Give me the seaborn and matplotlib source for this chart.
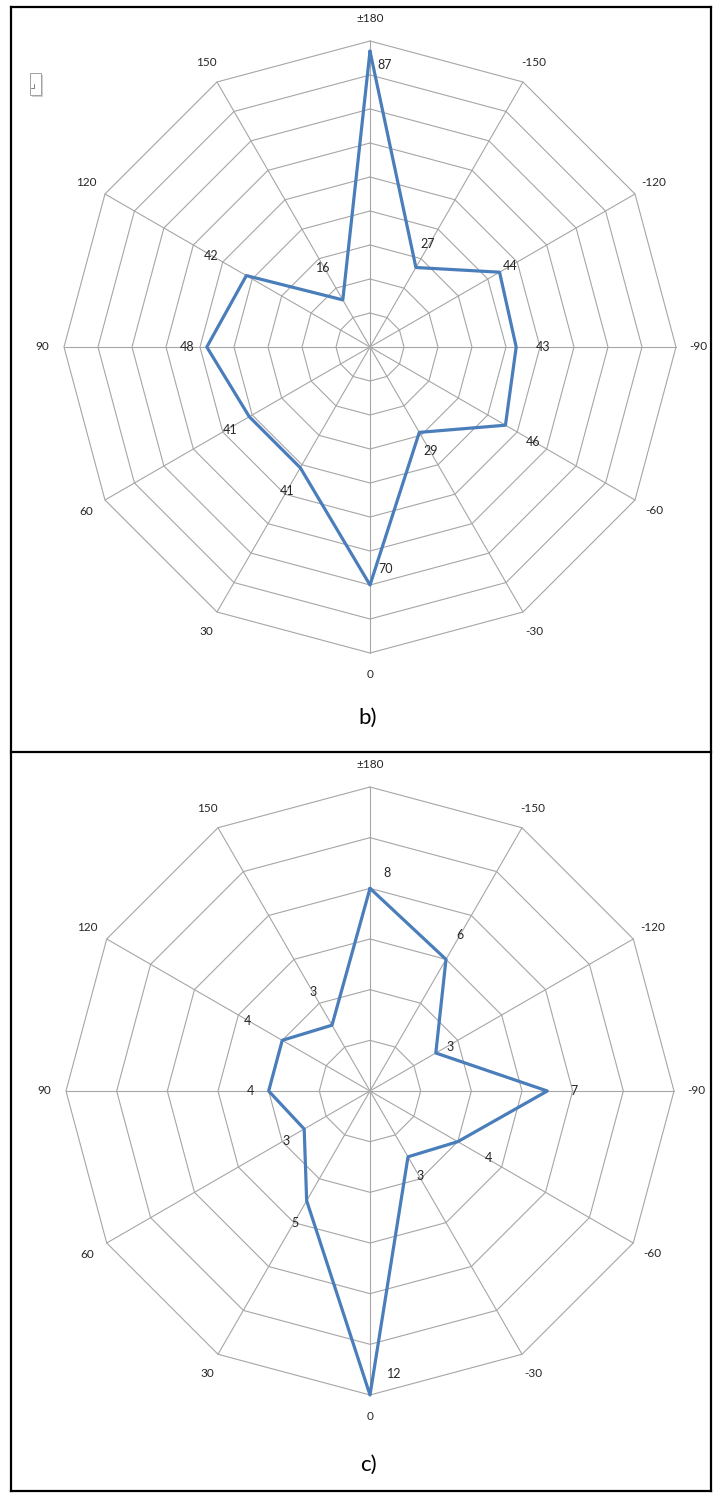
import numpy as np
import pandas as pd
import seaborn as sns
import matplotlib.pyplot as plt
from matplotlib.lines import Line2D
from matplotlib.patches import Rectangle

# categories (clockwise from the top) and the two series
angles = ['\u00b1180', '-150', '-120', '-90', '-60', '-30', '0', '30', '60', '90', '120', '150']
values_b = [87, 27, 44, 43, 46, 29, 70, 41, 41, 48, 42, 16]
values_c = [8, 6, 3, 7, 4, 3, 12, 5, 3, 4, 4, 3]
rmax_b, step_b = 90, 10
rmax_c, step_c = 12, 2

# data label offsets (pixels, x right / y up)
offs_b = [(15, -14), (12, 23), (11, 6), (27, 0), (28, -17), (11, -19),
          (16, 16), (-13, -23), (-19, -13), (-20, 0), (-35, 20), (-20, 32)]
offs_c = [(17, 15), (14, 24), (14, 6), (27, 0), (31, -16), (12, -19),
          (24, 21), (-12, -22), (-18, -12), (-18, 0), (-35, 19), (-19, 33)]

sns.set_style('white')
plt.rcParams['font.family'] = ['Lato', 'DejaVu Sans']

W, H = 713, 1493
fig = plt.figure(figsize=(W / 100, H / 100), dpi=100)

GRID = '#a6a6a6'
BLUE = '#4a7ebb'
TXT = '#262626'


def radar(values, rmax, step, cx, cy, R, offs, half=345):
    ax = fig.add_axes([(cx - half) / W, 1 - (cy + half) / H, 2 * half / W, 2 * half / H])
    L = rmax * half / R
    ax.set_xlim(-L, L)
    ax.set_ylim(-L, L)
    ax.axis('off')

    th = np.deg2rad(np.arange(len(angles)) * 30)
    sx, sy = np.sin(th), np.cos(th)

    # polygon rings
    for r in np.arange(step, rmax + step / 2, step):
        ax.plot(np.append(r * sx, r * sx[0]), np.append(r * sy, r * sy[0]),
                color=GRID, lw=0.8, zorder=1)
    # spokes
    for i in range(len(angles)):
        ax.plot([0, rmax * sx[i]], [0, rmax * sy[i]], color=GRID, lw=0.8, zorder=1)

    v = np.array(values, dtype=float)
    df = pd.DataFrame({'x': np.append(v * sx, v[0] * sx[0]),
                       'y': np.append(v * sy, v[0] * sy[0])})
    sns.lineplot(data=df, x='x', y='y', sort=False, estimator=None, ax=ax,
                 color=BLUE, lw=2.3, zorder=3)

    # category labels
    rl = rmax * (1 + 22 / R)
    for i, lab in enumerate(angles):
        ax.text(rl * sx[i], rl * sy[i], lab, ha='center', va='center',
                fontsize=8.5, color=TXT, clip_on=False)

    # value labels
    for i, val in enumerate(values):
        ax.annotate(str(val), (val * sx[i], val * sy[i]), xytext=offs[i],
                    textcoords='offset pixels', ha='center', va='center',
                    fontsize=9, color=TXT, annotation_clip=False)
    return ax


radar(values_b, rmax_b, step_b, 370, 347, 306, offs_b)
radar(values_c, rmax_c, step_c, 370, 1091, 304, offs_c)

fig.text(368 / W, 1 - 718 / H, 'b)', ha='center', va='center', fontsize=16, color='black')
fig.text(368 / W, 1 - 1465 / H, 'c)', ha='center', va='center', fontsize=16, color='black')

# frame around the two panels
lw = 1.6
for (x0, y0, x1, y1) in [(11, 7, 711, 7), (11, 752.5, 711, 752.5), (11, 1491, 711, 1491),
                         (11, 7, 11, 1491), (711, 7, 711, 1491)]:
    fig.add_artist(Line2D([x0 / W, x1 / W], [1 - y0 / H, 1 - y1 / H],
                          color='black', lw=lw, solid_capstyle='projecting'))

# small handle box at the top left
fig.add_artist(Rectangle((32 / W, 1 - 97 / H), 11 / W, 22 / H, facecolor='#d0d0d0',
                         edgecolor='none'))
fig.add_artist(Rectangle((30 / W, 1 - 95 / H), 11 / W, 22 / H, facecolor='white',
                         edgecolor='#a0a0a0', lw=0.7))
fig.add_artist(Line2D([31 / W, 34 / W, 34 / W], [1 - 88 / H, 1 - 88 / H, 1 - 84 / H],
                      color='#808080', lw=0.7))

fig.savefig('out.png', dpi=100)
